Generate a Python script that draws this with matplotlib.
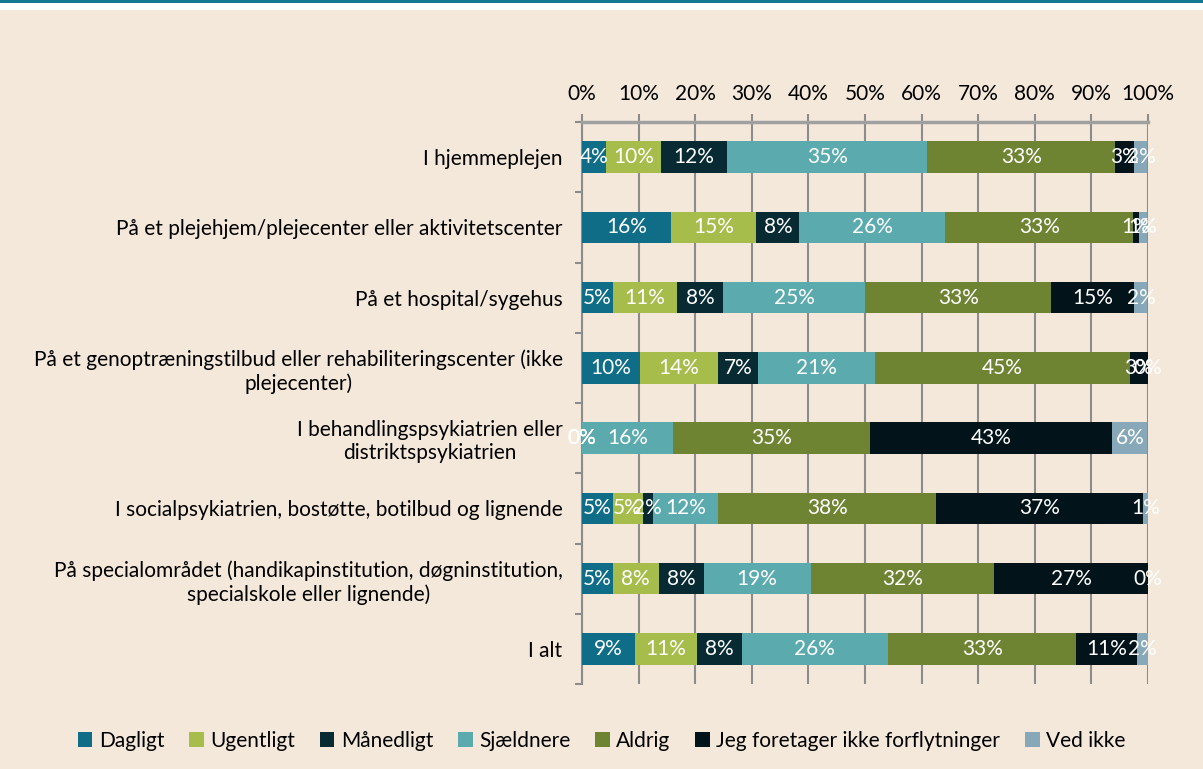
import numpy as np
import matplotlib.pyplot as plt
from matplotlib.patches import Rectangle

# categories (top to bottom)
categories = [
    "I hjemmeplejen",
    "På et plejehjem/plejecenter eller aktivitetscenter",
    "På et hospital/sygehus",
    "På et genoptræningstilbud eller rehabiliteringscenter (ikke\nplejecenter)",
    "I behandlingspsykiatrien eller\ndistriktspsykiatrien",
    "I socialpsykiatrien, bostøtte, botilbud og lignende",
    "På specialområdet (handikapinstitution, døgninstitution,\nspecialskole eller lignende)",
    "I alt",
]

series = ["Dagligt", "Ugentligt", "Månedligt", "Sjældnere", "Aldrig",
          "Jeg foretager ikke forflytninger", "Ved ikke"]

# shares in percent, one list per series
dagligt   = [4.3, 15.7, 5.4, 10.3, 0.0, 5.4, 5.4, 9.3]
ugentligt = [9.7, 15.1, 11.4, 13.7, 0.0, 5.3, 8.2, 11.1]
maanedligt = [11.6, 7.6, 8.1, 7.1, 0.0, 1.8, 7.9, 7.8]
sjaeldnere = [35.4, 25.8, 25.1, 20.6, 16.1, 11.6, 18.9, 25.9]
aldrig    = [33.2, 33.2, 32.9, 45.1, 34.8, 38.4, 32.4, 33.2]
jeg_ikke  = [3.4, 1.0, 14.7, 3.2, 42.8, 36.6, 27.2, 10.7]
ved_ikke  = [2.3, 1.4, 2.3, 0.0, 6.2, 1.0, 0.0, 2.0]

colors = ["#0f6d87", "#a6bc4b", "#072a33", "#5aaaae", "#6f8433", "#021319", "#86a8b8"]

bg = "#f4e8db"
all_series = [dagligt, ugentligt, maanedligt, sjaeldnere, aldrig, jeg_ikke, ved_ikke]

plt.rcParams['font.family'] = ['Lato', 'DejaVu Sans']
fs = 15

fig = plt.figure(figsize=(12.03, 7.69), dpi=100, facecolor=bg)
# top stripe
fig.patches.append(Rectangle((0, 0.987), 1, 0.013, transform=fig.transFigure,
                             facecolor="white", edgecolor="none", zorder=0))
fig.patches.append(Rectangle((0, 0.9965), 1, 0.0035, transform=fig.transFigure,
                             facecolor="#137893", edgecolor="none", zorder=1))

ax = fig.add_axes([0.4838, 0.1105, 0.4705, 0.7308])
ax.set_facecolor(bg)

y = np.arange(len(categories))
left = np.zeros(len(categories))
for name, vals, c in zip(series, all_series, colors):
    vals = np.array(vals)
    bars = ax.barh(y, vals, left=left, height=0.45, color=c, label=name, zorder=3)
    ax.bar_label(bars, labels=["%.0f%%" % v for v in vals], label_type="center",
                 color="white", fontsize=fs, zorder=4)
    left += vals

ax.set_xlim(0, 100)
ax.set_ylim(7.5, -0.5)
ax.set_xticks(np.arange(0, 101, 10))
ax.set_xticklabels(["%d%%" % v for v in range(0, 101, 10)], fontsize=fs)
ax.xaxis.tick_top()
ax.tick_params(axis="x", length=6, color="#8c8c8c", width=1.5, pad=7)
ax.grid(axis="x", color="#8c8c8c", linewidth=1.5, zorder=0)

ax.set_yticks(y)
ax.set_yticklabels(categories, fontsize=fs, multialignment="center")
ax.set_yticks(np.arange(-0.5, 8, 1), minor=True)
ax.tick_params(axis="y", which="major", length=0, pad=14)
ax.tick_params(axis="y", which="minor", length=5, color="#8c8c8c", width=1.5)

for s in ["right", "bottom"]:
    ax.spines[s].set_visible(False)
ax.spines["top"].set_color("#a0a0a0")
ax.spines["top"].set_linewidth(2.5)
ax.spines["left"].set_color("#8c8c8c")
ax.spines["left"].set_linewidth(1.5)

leg = fig.legend(loc="center", bbox_to_anchor=(0.5, 0.037), ncol=7, frameon=False,
                 fontsize=fs, handlelength=0.7, handleheight=0.7,
                 handletextpad=0.3, columnspacing=1.2)

fig.savefig("out.png", dpi=100, facecolor=bg)
